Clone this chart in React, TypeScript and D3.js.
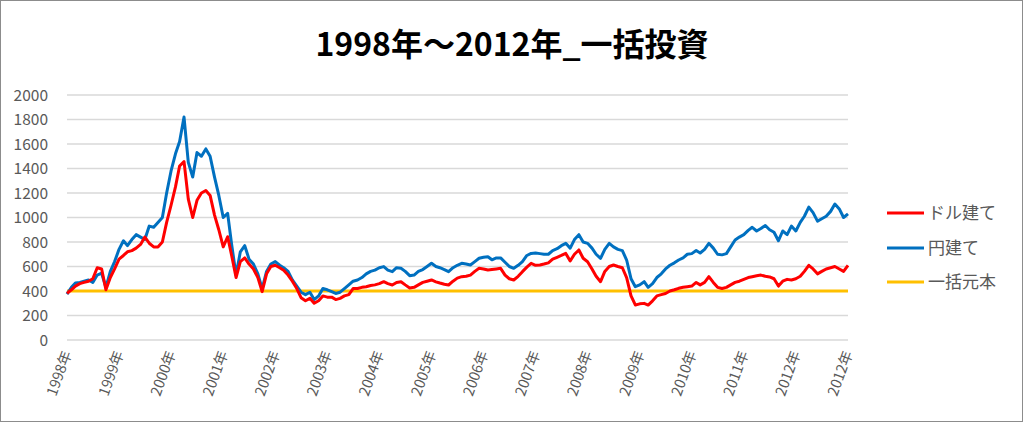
import React from "react";
import * as d3 from "d3";

// Month labels: one point per month, Jan 1998 .. Jan 2013 (181 points)
const startYear = 1998;
const months: string[] = d3.range(181).map((i) => {
  const y = startYear + Math.floor(i / 12);
  const m = (i % 12) + 1;
  return `${y}-${String(m).padStart(2, "0")}`;
});

// ドル建て (red)
const dollarValues: number[] = [
  380, 410, 440, 460, 470, 480, 500, 590, 580, 410, 510, 580,
  660, 690, 720, 730, 750, 780, 840, 790, 760, 760, 800, 960,
  1100, 1250, 1420, 1456, 1150, 1000, 1140, 1200, 1220, 1180, 1020, 900,
  760, 843, 690, 510, 640, 670, 620, 580, 510, 395, 540, 600,
  610, 590, 570, 530, 480, 420, 345, 320, 340, 300, 320, 360,
  350, 350, 330, 340, 360, 370, 420, 420, 430, 435, 445, 450,
  460, 476, 460, 449, 470, 476, 450, 425, 430, 450, 470, 480,
  490, 475, 465, 455, 449, 480, 505, 517, 520, 530, 560, 585,
  580, 571, 575, 580, 585, 530, 500, 490, 520, 558, 595, 626,
  610, 612, 620, 630, 660, 675, 690, 707, 645, 700, 735, 667,
  639, 580, 520, 476, 560, 600, 612, 600, 590, 510, 360, 286,
  295, 299, 285, 320, 360, 370, 380, 400, 410, 422, 430, 435,
  440, 470, 450, 470, 517, 470, 430, 420, 430, 450, 470, 480,
  495, 510, 517, 525, 530, 520, 515, 500, 440, 480, 495, 490,
  500, 520, 560, 610, 580, 540, 560, 580, 590, 600, 580, 560, 610,
];

// 円建て (blue)
const yenValues: number[] = [
  375, 430, 465, 470, 480, 490, 470, 530, 545, 430, 560, 640,
  740, 810, 770, 820, 860, 840, 820, 930, 920, 960, 1000, 1200,
  1380, 1520, 1620, 1820, 1450, 1330, 1530, 1500, 1560, 1500, 1330, 1180,
  1000, 1034, 780, 530, 720, 770, 660, 620, 540, 420, 560, 620,
  640, 610, 590, 560, 490, 440, 390, 370, 390, 330, 360, 420,
  410, 395, 380, 390, 420, 450, 480, 490, 510, 540, 560, 570,
  590, 599, 570, 558, 590, 585, 560, 525, 530, 560, 575, 600,
  626, 600, 590, 575, 558, 590, 610, 626, 620, 612, 640, 667,
  675, 680, 655, 670, 670, 635, 600, 585, 610, 640, 690, 707,
  710, 705, 700, 700, 730, 745, 770, 789, 750, 820, 860, 800,
  789, 750, 700, 667, 740, 789, 760, 740, 730, 653, 500, 435,
  450, 476, 430, 460, 510, 540, 580, 610, 630, 653, 670, 700,
  705, 730, 710, 740, 789, 750, 700, 695, 705, 760, 816, 840,
  860, 895, 920, 890, 910, 935, 900, 880, 810, 890, 860, 930,
  890, 960, 1010, 1085, 1040, 970, 990, 1010, 1050, 1110, 1070, 1000, 1030,
];

// 一括元本 (gold): lump-sum principal
const principal = 400;

const yTicks: number[] = [0, 200, 400, 600, 800, 1000, 1200, 1400, 1600, 1800, 2000];
const xTickLabels: string[] = [
  "1998年", "1999年", "2000年", "2001年", "2002年", "2003年", "2004年", "2005年",
  "2006年", "2007年", "2008年", "2009年", "2010年", "2011年", "2012年", "2012年",
];

const seriesNames = ["ドル建て", "円建て", "一括元本"];
const seriesColors = ["#FF0000", "#0070C0", "#FFC000"];
const title = "1998年～2012年_一括投資";

const FONT = "'Noto Sans CJK JP', 'Noto Sans', sans-serif";

export default function App() {
  const W = 1024;
  const H = 422;
  const left = 67;
  const right = 848;
  const top = 95;
  const bottom = 340;

  const parse = d3.timeParse("%Y-%m");
  const dates = months.map((m) => parse(m) as Date);

  const x = d3
    .scaleTime()
    .domain([new Date(1998, 0, 1), new Date(2013, 0, 1)])
    .range([left, right]);
  const y = d3.scaleLinear().domain([0, 2000]).range([bottom, top]);

  const line = d3
    .line<number>()
    .x((_, i) => x(dates[i]))
    .y((d) => y(d));

  const tickDates = xTickLabels.map((_, i) => new Date(1998 + i, 0, 1));

  const legendY = [213, 248, 282];

  return (
    <div style={{ position: "absolute", left: 0, top: 0 }}>
      <svg width={W} height={H} style={{ display: "block", background: "#fff" }}>
        <rect x={0.5} y={0.5} width={W - 2} height={H - 1} fill="#fff" stroke="#8c8c8c" strokeWidth={1} />
        <text
          x={512}
          y={56}
          textAnchor="middle"
          fontFamily={FONT}
          fontWeight="bold"
          fontSize={32}
          fill="#000"
        >
          {title}
        </text>
        {yTicks.map((t) => (
          <g key={t}>
            <line x1={left} x2={right} y1={y(t)} y2={y(t)} stroke="#d9d9d9" strokeWidth={1.3} />
            <text
              x={48}
              y={y(t) + 5.5}
              textAnchor="end"
              fontFamily={FONT}
              fontSize={15.5}
              fill="#595959"
            >
              {t}
            </text>
          </g>
        ))}
        {xTickLabels.map((lab, i) => {
          const tx = x(tickDates[i]) + 5;
          const ty = 353;
          return (
            <text
              key={i}
              x={tx}
              y={ty}
              textAnchor="end"
              transform={`rotate(-70 ${tx} ${ty})`}
              fontFamily={FONT}
              fontSize={14.5}
              fill="#595959"
            >
              {lab}
            </text>
          );
        })}
        <line
          x1={left}
          x2={right}
          y1={y(principal)}
          y2={y(principal)}
          stroke={seriesColors[2]}
          strokeWidth={3}
        />
        <path d={line(yenValues) || ""} fill="none" stroke={seriesColors[1]} strokeWidth={3} strokeLinejoin="round" />
        <path d={line(dollarValues) || ""} fill="none" stroke={seriesColors[0]} strokeWidth={3} strokeLinejoin="round" />
        {seriesNames.map((n, i) => (
          <g key={n}>
            <line x1={887} x2={924} y1={legendY[i]} y2={legendY[i]} stroke={seriesColors[i]} strokeWidth={3} />
            <text x={928} y={legendY[i] + 6} fontFamily={FONT} fontSize={17} fill="#595959">
              {n}
            </text>
          </g>
        ))}
      </svg>
    </div>
  );
}
